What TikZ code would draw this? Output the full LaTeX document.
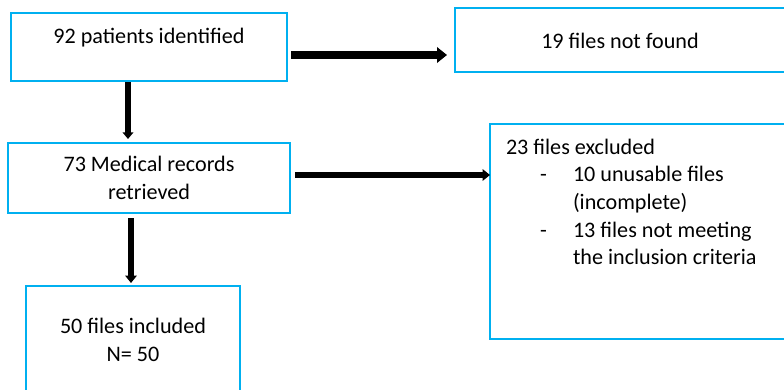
\documentclass[tikz,border=0pt]{standalone}
\usepackage{fontspec}
\setmainfont{Carlito}
\usetikzlibrary{arrows.meta,calc}
\definecolor{boxblue}{HTML}{00B0F0}
\begin{document}
\begin{tikzpicture}[x=0.75pt,y=-0.75pt,
  box/.style={draw=boxblue,line width=2.2pt,rectangle,inner sep=0pt,outer sep=0pt},
  txt/.style={inner sep=0pt,outer sep=0pt,anchor=base,font=\fontsize{16.6}{20.5}\selectfont},
  txtl/.style={txt,anchor=base west},
  bigarrow/.style={line width=5.5pt,-{Triangle[length=7.5pt,width=11.5pt]}},
  arrowa/.style={line width=3.8pt,-{Triangle[length=5pt,width=8pt]}},
  arrowb/.style={line width=4pt,-{Triangle[length=5.5pt,width=8.5pt]}}]
\useasboundingbox (0,0) rectangle (784,389);
\clip (0,0) rectangle (784,389);
% boxes
\node[box,minimum width=207pt,minimum height=51pt] (box1) at (149,47) {};
\node[box,minimum width=247.5pt,minimum height=48pt] (box2) at (620,40) {};
\node[box,minimum width=211.5pt,minimum height=52.5pt] (box3) at (149,178) {};
\node[box,minimum width=240pt,minimum height=161.25pt] (box4) at (650,231.5) {};
\node[box,minimum width=160.5pt,minimum height=81pt] (box5) at (133,340) {};
% texts
\node[txt] (t1) at (149,43.5) {92 patients identified};
\node[txt] (t2) at (620,48) {19 files not found};
\node[txt] (t3a) at (149,171.7) {73 Medical records};
\node[txt] (t3b) at (149,199) {retrieved};
\node[txt] (t5a) at (133,333.3) {50 files included};
\node[txt] (t5b) at (133,361.7) {N= 50};
\node[txtl] (t4) at (506,154) {23 files excluded};
\node[txtl] (d1) at (540,181.7) {-};
\node[txtl] (t4a) at (573,181.7) {10 unusable files};
\node[txtl] (t4b) at (573,209.3) {(incomplete)};
\node[txtl] (d2) at (540,237.3) {-};
\node[txtl] (t4c) at (573,237.3) {13 files not meeting};
\node[txtl] (t4d) at (573,264) {the inclusion criteria};
% connectors
\coordinate (a1s) at ($(box1.east)+(4,8)$);
\draw[bigarrow,shorten >=6pt] (a1s) -- (a1s -| box2.west);
\coordinate (a2s) at ($(box3.east)+(5,-3)$);
\draw[arrowb] (a2s) -- (a2s -| box4.west);
\coordinate (d1s) at ($(box1.south)+(-21,1)$);
\draw[arrowa,shorten >=3pt] (d1s) -- (d1s |- box3.north);
\coordinate (d2s) at ($(box3.south)+(-18,5)$);
\draw[arrowb,shorten >=2.25pt] (d2s) -- (d2s |- box5.north);
\end{tikzpicture}
\end{document}
